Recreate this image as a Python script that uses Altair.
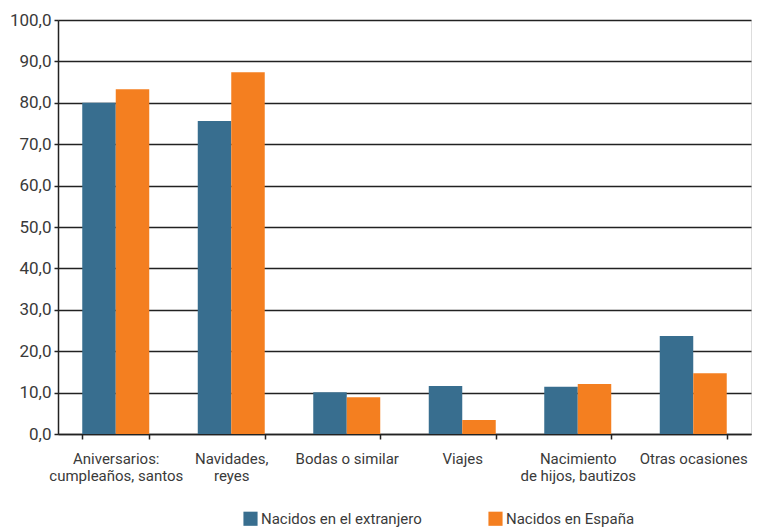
import altair as alt
import pandas as pd

categorias = [
    "Aniversarios:\ncumpleaños, santos",
    "Navidades,\nreyes",
    "Bodas o similar",
    "Viajes",
    "Nacimiento\nde hijos, bautizos",
    "Otras ocasiones",
]
series = ["Nacidos en el extranjero", "Nacidos en España"]
extranjero = [80.0, 75.6, 10.1, 11.6, 11.4, 23.7]
espana = [83.3, 87.4, 8.9, 3.4, 12.1, 14.7]
colores = ["#386E8F", "#F47F20"]
y_ticks = [0, 10, 20, 30, 40, 50, 60, 70, 80, 90, 100]

rows = []
for c, a, b in zip(categorias, extranjero, espana):
    rows.append({"categoria": c, "serie": series[0], "valor": a})
    rows.append({"categoria": c, "serie": series[1], "valor": b})
df = pd.DataFrame(rows)

FONT = "Roboto, Liberation Sans, sans-serif"

chart = (
    alt.Chart(df)
    .mark_bar()
    .encode(
        x=alt.X(
            "categoria:N",
            sort=categorias,
            scale=alt.Scale(paddingInner=0.42, paddingOuter=0.21),
            axis=alt.Axis(
                title=None,
                labelAngle=0,
                labelExpr="split(datum.label, '\\n')",
                tickBand="extent",
                tickSize=5,
                tickColor="#222222",
                tickWidth=1.5,
                domainColor="#222222",
                domainWidth=1.5,
                labelPadding=12,
                labelFontSize=15,
                labelLineHeight=17.5,
                labelColor="#3a3a3a",
                labelFont=FONT,
                labelLimit=300,
                grid=False,
            ),
        ),
        xOffset=alt.XOffset("serie:N", sort=series, scale=alt.Scale(paddingInner=0, paddingOuter=0)),
        y=alt.Y(
            "valor:Q",
            scale=alt.Scale(domain=[0, 100], nice=False),
            axis=alt.Axis(
                title=None,
                values=y_ticks,
                labelExpr="replace(format(datum.value, '.1f'), '.', ',')",
                tickSize=4,
                tickColor="#222222",
                tickWidth=1.5,
                domainColor="#222222",
                domainWidth=1.5,
                gridColor="#222222",
                gridWidth=1.5,
                labelPadding=3,
                labelFontSize=17,
                labelColor="#3a3a3a",
                labelFont=FONT,
            ),
        ),
        color=alt.Color(
            "serie:N",
            sort=series,
            scale=alt.Scale(domain=series, range=colores),
            legend=alt.Legend(
                title=None,
                orient="none",
                direction="horizontal",
                legendX=185,
                legendY=491,
                symbolType="square",
                symbolSize=200,
                symbolStrokeWidth=0,
                labelFontSize=15,
                labelFont=FONT,
                labelColor="#3a3a3a",
                labelLimit=300,
                columnPadding=66,
                labelOffset=3,
            ),
        ),
    )
    .properties(
        width=693,
        height=414,
        autosize=alt.AutoSizeParams(type="none"),
        padding={"left": 50, "top": 12, "right": 1, "bottom": 93},
    )
    .configure_view(stroke="#222222", strokeWidth=1.5)
    .configure(background="white")
)

chart.save("out.html", embed_options={"renderer": "svg", "actions": False})
